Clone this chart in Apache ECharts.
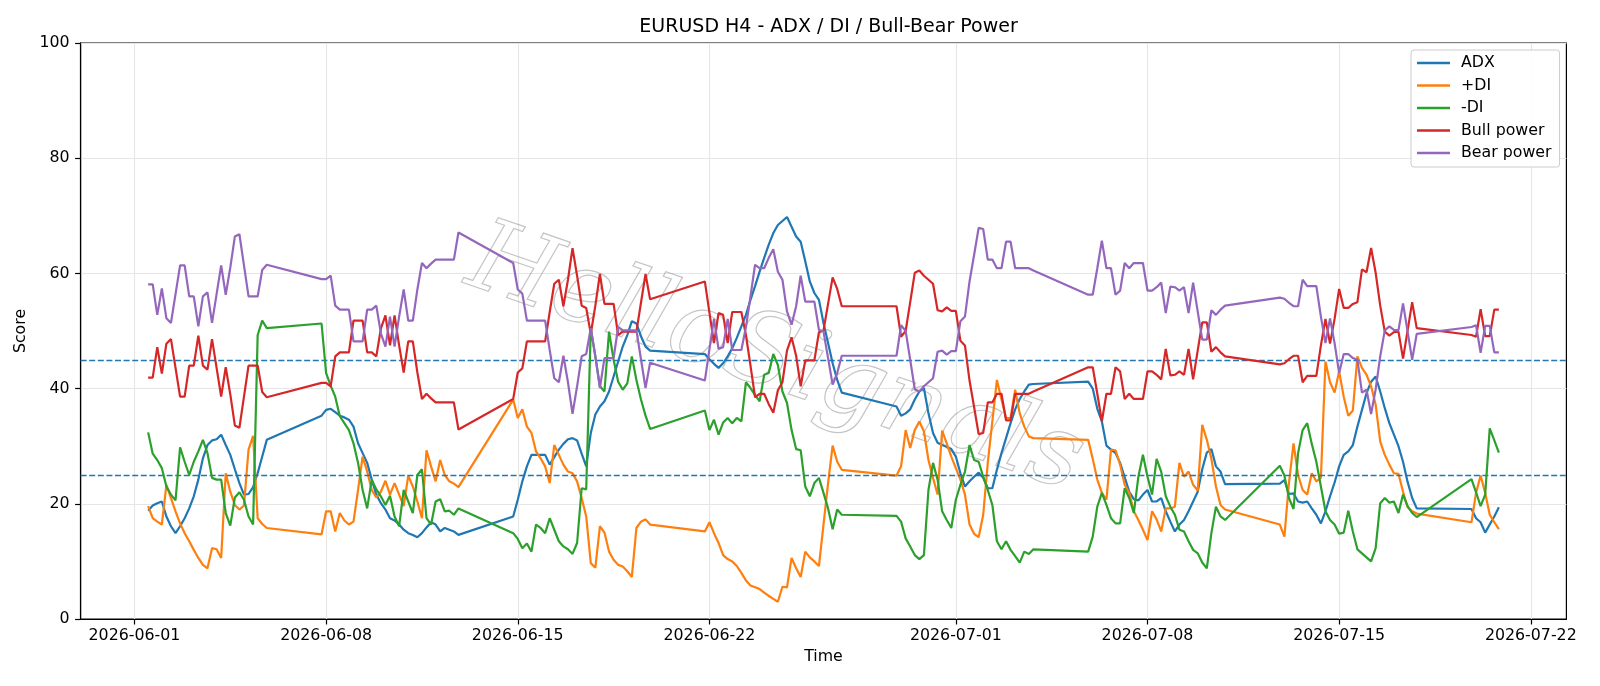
<!DOCTYPE html>
<html><head><meta charset="utf-8">
<script src="https://cdn.jsdelivr.net/npm/echarts@6/dist/echarts.min.js"></script>
<style>html,body{margin:0;padding:0;background:#fff}#c{width:1600px;height:686px}</style>
</head><body><div id="c"></div>
<script>
// ---- data (4H bars, weekend gaps) ----
const sessions = [
  ["2026-06-01T12:00", 27], ["2026-06-07T20:00", 31], ["2026-06-14T20:00", 31],
  ["2026-06-21T20:00", 31], ["2026-06-28T20:00", 31], ["2026-07-05T20:00", 31],
  ["2026-07-12T20:00", 31], ["2026-07-19T20:00", 7]
];
const xTickDays = [0, 7, 14, 21, 30, 37, 44, 51];
const yTicks = [0, 20, 40, 60, 80, 100];
const thresholds = [45, 25];

const adx = [
  18.8,19.7,20.1,20.4,17.8,16.1,14.9,16.1,17.5,19.2,21.3,24.2,27.9,30.2,31.0,31.2,32.0,30.2,28.5,26.0,23.6,21.6,21.7,22.9,25.3,28.2,31.1,
  35.3,36.3,36.5,35.9,35.3,35.0,34.6,33.4,30.5,28.8,27.1,24.2,21.6,20.1,19.0,17.5,17.1,16.4,15.5,14.9,14.6,14.2,14.9,15.9,16.8,16.4,15.2,15.8,15.5,15.2,14.6,
  17.8,20.7,23.9,26.5,28.5,28.5,28.5,28.5,26.8,28.1,29.4,30.4,31.2,31.4,31.0,28.7,26.5,32.3,35.5,36.9,37.8,39.5,42.1,44.7,47.3,49.3,51.7,51.3,49.1,47.3,46.6,
  46.0,45.1,44.3,43.6,44.4,45.6,47.0,48.8,50.8,52.8,55.4,57.8,60.3,62.7,65.0,67.0,68.4,69.1,69.8,68.1,66.4,65.5,62.1,58.6,56.6,55.4,51.4,47.9,44.4,41.5,39.3,
  36.9,35.3,35.7,36.4,38.1,39.5,40.1,35.7,32.3,30.6,30.2,29.9,29.5,28.2,25.3,23.0,23.9,24.7,25.4,24.5,22.7,22.7,25.9,28.8,31.4,34.0,36.4,38.2,39.5,40.7,40.8,
  41.2,40.0,36.5,34.3,30.1,29.4,28.8,27.1,24.6,22.1,20.8,20.6,21.6,22.4,20.4,20.4,21.0,18.7,16.9,15.2,16.4,17.2,18.7,20.4,22.1,26.0,28.9,29.5,26.5,25.6,23.4,
  23.5,24.1,21.7,21.8,20.4,20.2,20.4,19.2,18.1,16.6,18.7,21.3,23.7,26.5,28.5,29.1,30.2,33.4,36.3,39.2,41.2,42.1,39.5,36.6,34.0,32.0,30.0,27.3,23.8,21.0,19.2,
  19.1,17.5,16.8,15.0,16.4,17.8,19.4
];
const plusDI = [
  19.6,17.5,16.9,16.4,23.3,21.0,18.7,16.6,14.9,13.5,12.0,10.6,9.4,8.8,12.3,12.1,10.6,25.3,22.1,19.8,19.0,19.7,29.4,31.8,17.5,16.5,15.8,
  14.7,18.7,18.7,15.2,18.4,17.1,16.4,16.9,22.4,28.2,25.6,22.4,21.1,22.1,24.0,21.6,23.6,21.6,19.6,24.9,23.0,20.4,17.5,29.3,26.5,23.9,27.6,25.0,23.9,23.5,22.9,
  38.1,34.9,36.4,33.4,32.3,29.1,27.9,26.5,23.6,30.2,28.5,26.8,25.6,25.3,23.9,21.0,17.8,9.7,8.9,16.1,15.0,11.7,10.3,9.4,9.1,8.3,7.3,15.8,16.9,17.3,16.4,
  15.2,16.8,14.9,13.2,11.1,10.4,10.0,9.2,8.0,6.7,5.8,5.5,5.2,4.6,4.0,3.5,3.0,5.6,5.5,10.6,8.8,7.3,11.7,10.7,10.0,9.2,16.4,23.6,30.1,27.3,25.9,
  24.9,26.5,32.8,29.7,32.8,34.3,32.6,27.6,24.5,21.6,32.7,30.5,28.2,26.2,24.2,21.6,16.4,14.8,14.2,18.1,27.1,34.3,41.5,38.1,34.9,34.9,39.8,35.7,33.4,31.7,31.4,
  31.1,27.8,24.2,21.9,20.7,29.4,29.3,26.8,23.3,21.9,18.7,17.2,15.5,13.7,18.7,17.3,15.2,19.2,19.2,19.5,27.1,24.7,25.6,23.3,22.3,33.7,31.1,27.8,23.0,19.8,19.0,
  16.4,14.3,23.6,30.5,25.0,22.4,21.6,25.3,23.9,24.5,44.7,41.1,39.3,43.0,38.6,35.3,36.2,45.6,43.6,42.4,40.4,37.2,30.8,28.5,26.8,25.3,25.2,22.1,19.4,18.7,18.3,
  16.8,21.9,24.9,21.9,18.1,16.8,15.6
];
const minusDI = [
  32.4,28.7,27.6,26.2,23.0,21.6,20.6,29.8,27.3,25.0,27.3,29.1,31.1,28.8,24.5,24.2,24.2,18.4,16.2,21.1,22.0,20.7,17.8,16.4,49.3,51.8,50.5,
  51.3,42.7,40.5,38.6,35.2,34.0,32.8,30.5,27.1,22.4,19.2,24.2,22.5,21.3,19.8,21.4,17.8,16.1,22.4,20.4,18.4,25.0,26.0,17.5,16.4,20.4,20.8,18.7,18.8,18.1,19.2,
  14.9,13.9,12.3,13.1,11.7,16.4,15.8,14.9,17.5,15.5,13.5,12.6,12.1,11.3,13.2,22.7,22.5,50.5,45.6,40.4,39.5,49.9,45.0,41.2,39.8,40.9,45.6,41.5,38.1,35.3,33.0,
  36.2,32.8,34.6,32.0,34.1,34.9,34.0,34.9,34.3,41.1,40.1,38.9,37.8,42.4,42.7,46.0,44.1,39.5,37.5,32.8,29.5,29.3,23.0,21.3,23.6,24.5,21.9,19.2,15.6,19.0,18.1,
  17.9,16.9,14.0,12.6,11.1,10.4,11.1,22.4,27.1,24.2,18.7,17.2,15.8,20.7,23.3,25.6,30.2,27.6,27.3,24.7,22.4,19.8,13.5,12.1,13.5,12.0,10.9,9.8,11.7,11.3,12.1,
  11.7,14.3,19.5,21.9,19.8,17.5,16.6,16.6,22.7,21.0,18.4,24.7,28.5,24.7,21.6,27.8,25.6,21.3,19.5,18.1,15.5,15.2,13.5,12.0,11.4,9.8,8.8,14.9,19.5,17.8,17.2,
  26.6,24.9,21.0,19.1,28.8,32.8,34.0,30.4,27.3,23.0,18.7,17.2,16.4,14.8,15.0,18.8,15.2,12.1,11.4,10.7,10.0,12.3,20.1,21.0,20.2,20.4,18.4,21.6,19.6,18.4,17.7,
  24.3,22.0,19.6,21.6,33.1,31.0,28.9
];
const bullPower = [
  41.9,41.9,47.2,42.6,47.8,48.6,43.6,38.6,38.6,44.0,44.0,49.2,44.0,43.3,48.6,43.6,38.6,43.7,39.0,33.6,33.2,38.6,44.0,44.0,44.0,39.4,38.5,
  41.0,41.0,40.4,45.6,46.3,46.3,46.3,51.8,51.8,51.8,46.3,46.3,45.6,50.4,52.7,47.5,52.7,47.5,42.8,48.2,48.2,42.8,38.2,39.1,38.3,37.6,37.6,37.6,37.6,37.6,32.9,
  38.2,42.8,43.5,48.2,48.2,48.2,48.2,48.2,53.3,58.2,58.9,54.3,58.9,64.4,59.6,54.4,54.0,49.5,54.4,59.9,54.7,54.7,54.7,49.3,49.9,49.9,49.9,49.9,54.9,59.9,55.5,
  58.6,53.2,47.9,53.1,52.8,47.9,53.3,53.3,53.3,49.3,44.0,38.5,39.1,39.1,37.3,35.8,39.7,41.1,46.6,48.9,45.7,40.4,44.9,44.9,44.9,49.8,50.1,54.7,59.3,57.3,54.3,
  54.3,49.0,50.0,55.0,60.1,60.5,59.6,58.9,58.2,53.6,53.4,54.1,53.5,53.5,48.3,47.5,41.4,36.8,32.1,32.3,37.6,37.6,39.1,39.1,34.5,34.5,39.1,39.1,39.1,39.1,39.5,
  43.7,43.7,39.1,34.3,39.1,39.1,43.7,43.0,38.2,39.1,38.2,38.2,38.2,43.0,43.0,42.4,41.6,46.9,42.3,42.4,43.0,42.4,46.9,41.6,46.6,51.5,51.5,46.4,47.2,46.3,45.6,
  44.2,44.4,45.1,45.7,45.7,41.1,42.2,42.2,42.2,47.5,52.1,47.8,52.1,57.3,54.0,54.0,54.7,55.0,60.7,60.2,64.4,60.1,54.4,49.9,49.2,49.8,49.9,45.2,50.1,55.0,50.5,
  49.3,49.0,53.8,49.1,49.1,53.7,53.7
];
const bearPower = [
  58.1,58.1,52.8,57.4,52.2,51.4,56.4,61.4,61.4,56.0,56.0,50.8,56.0,56.7,51.4,56.4,61.4,56.3,61.0,66.4,66.8,61.4,56.0,56.0,56.0,60.6,61.5,
  59.0,59.0,59.6,54.4,53.7,53.7,53.7,48.2,48.2,48.2,53.7,53.7,54.4,49.6,47.3,52.5,47.3,52.5,57.2,51.8,51.8,57.2,61.8,60.9,61.7,62.4,62.4,62.4,62.4,62.4,67.1,
  61.8,57.2,56.5,51.8,51.8,51.8,51.8,51.8,46.7,41.8,41.1,45.7,41.1,35.6,40.4,45.6,46.0,50.5,45.6,40.1,45.3,45.3,45.3,50.7,50.1,50.1,50.1,50.1,45.1,40.1,44.5,
  41.4,46.8,52.1,46.9,47.2,52.1,46.7,46.7,46.7,50.7,56.0,61.5,60.9,60.9,62.7,64.2,60.3,58.9,53.4,51.1,54.3,59.6,55.1,55.1,55.1,50.2,49.9,45.3,40.7,42.7,45.7,
  45.7,51.0,50.0,45.0,39.9,39.5,40.4,41.1,41.8,46.4,46.6,45.9,46.5,46.5,51.7,52.5,58.6,63.2,67.9,67.7,62.4,62.4,60.9,60.9,65.5,65.5,60.9,60.9,60.9,60.9,60.5,
  56.3,56.3,60.9,65.7,60.9,60.9,56.3,57.0,61.8,60.9,61.8,61.8,61.8,57.0,57.0,57.6,58.4,53.1,57.7,57.6,57.0,57.6,53.1,58.4,53.4,48.5,48.5,53.6,52.8,53.7,54.4,
  55.8,55.6,54.9,54.3,54.3,58.9,57.8,57.8,57.8,52.5,47.9,52.2,47.9,42.7,46.0,46.0,45.3,45.0,39.3,39.8,35.6,39.9,45.6,50.1,50.8,50.2,50.1,54.8,49.9,45.0,49.5,
  50.7,51.0,46.2,50.9,50.9,46.3,46.3
];

// ---- build ----
const DAY = 86400000;
const T0 = Date.UTC(2026, 5, 1);
function parseT(s) {
  const [d, t] = s.split('T');
  const [Y, M, D] = d.split('-').map(Number);
  const [h, m] = t.split(':').map(Number);
  return (Date.UTC(Y, M - 1, D, h, m) - T0) / DAY;
}
const xs = [];
sessions.forEach(([s, n]) => { const t0 = parseT(s); for (let i = 0; i < n; i++) xs.push(t0 + i / 6); });
const pair = arr => arr.map((v, i) => [xs[i], v]);
function fmtDay(v) {
  const d = new Date(T0 + Math.round(v) * DAY);
  return d.getUTCFullYear() + '-' + String(d.getUTCMonth() + 1).padStart(2, '0') + '-' + String(d.getUTCDate()).padStart(2, '0');
}

const FONT = 'DejaVu Sans';
const titleText = 'EURUSD H4 - ADX / DI / Bull-Bear Power';
const cv = document.createElement('canvas').getContext('2d');
cv.font = '19px "DejaVu Sans"';
const titleW = cv.measureText(titleText).width;
const plotL = 80.6, plotR = 1566.4;
const titleLeft = (plotL + plotR) / 2 - titleW / 2;

const colors = ['#1f77b4', '#ff7f0e', '#2ca02c', '#d62728', '#9467bd'];
const names = ['ADX', '+DI', '-DI', 'Bull power', 'Bear power'];
const datas = [adx, plusDI, minusDI, bullPower, bearPower];

const series = datas.map((d, i) => ({
  name: names[i], type: 'line', data: pair(d), showSymbol: false, symbol: 'none',
  lineStyle: { color: colors[i], width: 2.2 }, itemStyle: { color: colors[i] },
  z: 3 + i, silent: true
}));
series[0].markLine = {
  symbol: 'none', silent: true, label: { show: false }, animation: false,
  lineStyle: { color: '#1f77b4', type: [6, 2.6], width: 1.4 },
  data: thresholds.map(v => ({ yAxis: v }))
};

const chart = echarts.init(document.getElementById('c'));
chart.setOption({
  animation: false,
  backgroundColor: '#ffffff',
  color: colors,
  title: {
    text: titleText, left: titleLeft, top: 13,
    textStyle: { fontFamily: FONT, fontSize: 19, fontWeight: 'normal', color: '#000' }
  },
  grid: { left: plotL, right: 1600 - plotR, top: 43, bottom: 67, show: true, borderColor: '#000', borderWidth: 1.2, backgroundColor: 'transparent' },
  legend: {
    orient: 'vertical', left: 1411, top: 50,
    itemWidth: 33, itemHeight: 2.4, itemGap: 6.5, icon: 'rect',
    textStyle: { fontFamily: FONT, fontSize: 15.8, color: '#000', padding: [0, 0, 0, 6] },
    backgroundColor: 'rgba(255,255,255,0.85)', borderColor: '#cccccc', borderWidth: 1, borderRadius: 3,
    padding: [5, 8, 6, 6],
    data: names
  },
  xAxis: {
    type: 'value', min: -1.967, max: 52.3,
    name: 'Time', nameLocation: 'middle', nameGap: 28,
    nameTextStyle: { fontFamily: FONT, fontSize: 15.8, color: '#000' },
    axisLine: { onZero: false, lineStyle: { color: '#000', width: 1.2 } },
    axisTick: { customValues: xTickDays, length: 5.5, lineStyle: { color: '#000', width: 1.2 } },
    axisLabel: { customValues: xTickDays, formatter: fmtDay, margin: 9, fontFamily: FONT, fontSize: 15.8, color: '#000' },
    splitLine: { show: true, lineStyle: { color: '#e6e6e6', width: 1.2 } }
  },
  yAxis: {
    type: 'value', min: yTicks[0], max: yTicks[yTicks.length - 1], interval: 20,
    name: 'Score', nameLocation: 'middle', nameGap: 42,
    nameTextStyle: { fontFamily: FONT, fontSize: 15.8, color: '#000' },
    axisLine: { show: true, onZero: false, lineStyle: { color: '#000', width: 1.2 } },
    axisTick: { show: true, length: 5.5, lineStyle: { color: '#000', width: 1.2 } },
    axisLabel: { margin: 11, fontFamily: FONT, fontSize: 15.8, color: '#000' },
    splitLine: { show: true, lineStyle: { color: '#e6e6e6', width: 1.2 } }
  },
  graphic: [{
    type: 'text', x: 775, y: 362, rotation: -0.33, silent: true, z: 1,
    style: {
      text: 'HelloSignals', font: 'italic 100px "DejaVu Serif"',
      fill: 'rgba(255,255,255,0)', stroke: 'rgba(140,140,140,0.5)', lineWidth: 1.2,
      align: 'center', verticalAlign: 'middle'
    }
  }],
  series: series
});
</script>
</body></html>
